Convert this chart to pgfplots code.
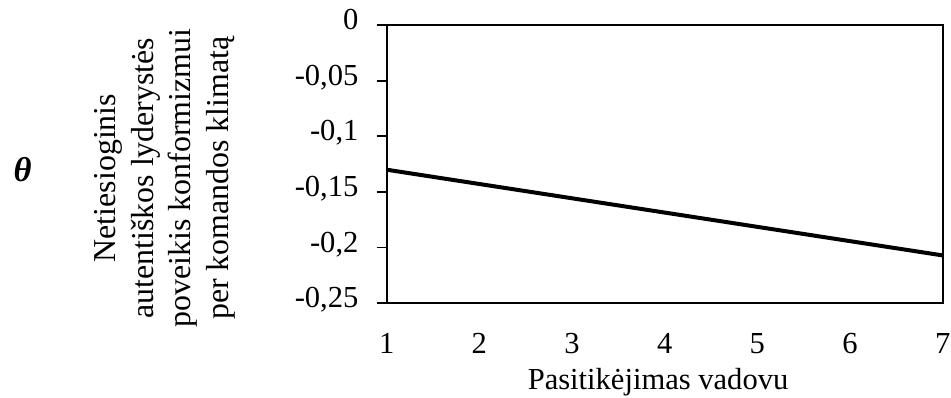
\documentclass[border=0pt]{standalone}
\usepackage{fontspec}
\setmainfont{Liberation Serif}
\usepackage{pgfplots}
\pgfplotsset{compat=1.18}
\begin{document}
\begin{tikzpicture}
\begin{axis}[
  name=ax,
  at={(0,0)}, anchor=south west,
  scale only axis,
  width=417bp, height=208.7bp,
  xmin=1, xmax=7, ymin=-0.25, ymax=0,
  xtick={1,2,3,4,5,6,7},
  ytick={-0.25,-0.2,-0.15,-0.1,-0.05,0},
  ytick pos=left,
  /pgf/number format/assume math mode=true,
  /pgf/number format/.cd, use comma, fixed, precision=2, /pgfplots/.cd,
  axis line style={line width=1.3bp},
  tick align=outside,
  major tick length=7.5bp,
  ytick style={line width=1.3bp, black},
  xtick style={draw=none},
  tick label style={font=\fontsize{23}{27}\selectfont},
  yticklabel style={anchor=base east, inner sep=0pt, xshift=-13.5bp, yshift=-0.34em},
  xticklabel style={anchor=base, inner sep=0pt, yshift=-30bp},
  xlabel={Pasitikėjimas vadovu},
  xlabel style={at={(rel axis cs:0.488,-0.3115)}, anchor=base, inner sep=0pt, font=\fontsize{23}{27.5}\selectfont},
  ylabel={Netiesioginis\\autentiškos lyderystės\\poveikis konformizmui\\per komandos klimatą},
  ylabel style={at={(rel axis cs:-0.399,0.450)}, anchor=center, align=center, inner sep=0pt, font=\fontsize{24}{28.5}\selectfont},
  clip=false,
]
\addplot[black, line width=3bp] coordinates {(1,-0.130) (7,-0.207)};
\node[font=\fontsize{26}{30}\selectfont\bfseries\itshape] at (rel axis cs:-0.655,0.481) {θ};
\end{axis}
\pgfresetboundingbox
\path[use as bounding box] (-290bp,-70.3bp) rectangle (423.2bp,227.45bp);
\end{tikzpicture}
\end{document}
